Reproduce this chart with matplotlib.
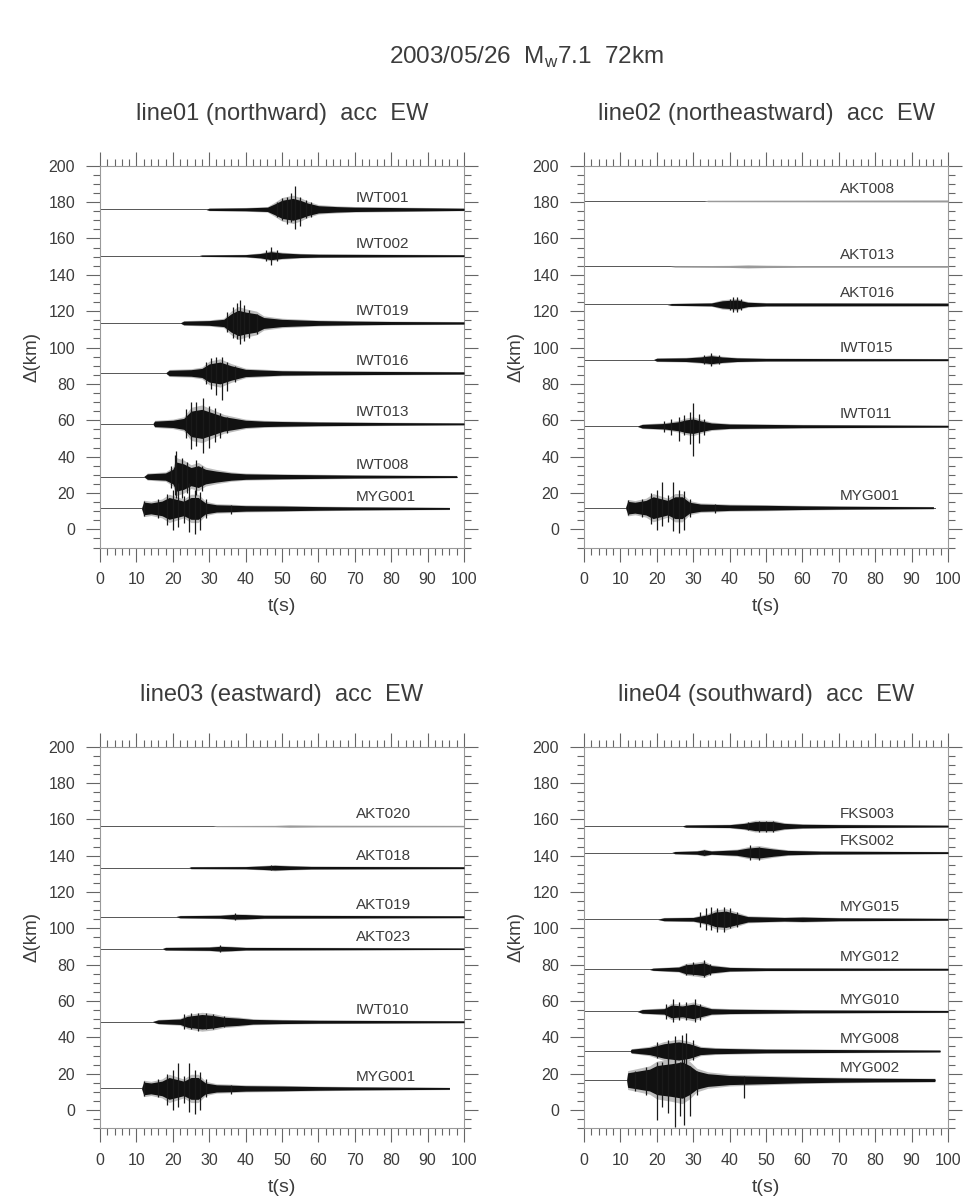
import numpy as np
import matplotlib
matplotlib.use('Agg')
import matplotlib.pyplot as plt
from matplotlib.ticker import MultipleLocator

plt.rcParams['font.family'] = ['Liberation Sans', 'DejaVu Sans']

TXT = '#3c3c3c'
W, H = 965, 1201

# envelope knots (t [s], half amplitude [km]) and spikes (t, up, down)
# MYG001 shows up in three of the lines
myg001_env = [(11.4, 0), (12, 3.5), (14, 3), (17, 4), (19, 6), (21, 5), (23, 4), (25, 6), (27, 6),
              (29, 3), (32, 2), (36, 1.8), (40, 1.5), (50, 1.3), (60, 1), (70, 0.8), (96, 0.5)]
myg001_spk = [(12, 4, 4), (16, 5, 5), (18.5, 8, 9), (20, 10, 12), (21.5, 14, 10), (23, 7, 8),
              (24.5, 14, 13), (26, 10, 14), (27.5, 9, 12), (29, 5, 5), (36, 2, 3)]

p1_title = 'line01 (northward)  acc  EW'
p1_names = ['IWT001', 'IWT002', 'IWT019', 'IWT016', 'IWT013', 'IWT008', 'MYG001']
p1_dist = [176, 150.5, 113.5, 86, 58, 29, 11.5]
p1_tend = [100, 100, 100, 100, 100, 98, 96]
p1_env = [
    [(29, 0), (30, 0.6), (40, 0.8), (46, 1.2), (48, 3), (50, 5), (53, 6), (55, 5), (57, 3.5), (60, 2),
     (65, 1.5), (70, 1.2), (80, 1), (90, 0.8), (100, 0.6)],
    [(27, 0), (28, 0.4), (40, 0.6), (44, 1.2), (47, 2.2), (50, 1.5), (55, 1), (60, 0.8), (100, 0.5)],
    [(22, 0), (23, 1), (30, 1.3), (34, 2), (36, 5), (38, 7), (40, 6), (43, 5), (45, 3), (50, 2),
     (60, 1.3), (70, 1), (80, 0.8), (100, 0.6)],
    [(18, 0), (19, 1.5), (25, 1.8), (28, 2.5), (30, 5), (33, 6), (36, 4), (40, 2), (50, 1.2), (60, 1),
     (100, 0.6)],
    [(14.5, 0), (15, 1.5), (20, 2), (23, 3), (25, 7), (28, 8), (31, 6), (34, 4), (37, 3), (40, 2),
     (45, 1.5), (50, 1.3), (60, 1), (80, 0.7), (100, 0.5)],
    [(12, 0), (13, 1.5), (18, 2), (20, 4), (21, 8), (23, 7), (25, 5), (27, 6), (29, 4), (32, 3), (36, 2),
     (40, 1.5), (50, 1.2), (70, 0.8), (98, 0.5)],
    myg001_env,
]
p1_spk = [
    [(48.5, 4, 4), (50, 6, 6), (51.5, 7, 8), (52.5, 9, 7), (53.5, 13, 11), (55, 7, 9), (56.5, 5, 5),
     (58, 4, 4)],
    [(45.5, 3, 3), (47, 5, 5), (48.5, 3, 3)],
    [(35, 6, 5), (36.5, 9, 8), (37.5, 11, 9), (38.5, 12.5, 11.5), (39.5, 10, 10), (41, 7, 8), (43, 5, 6)],
    [(29, 6, 6), (30.5, 8, 9), (32, 9, 12), (33.4, 9, 15), (35, 6, 10), (37, 4, 5)],
    [(23.5, 8, 8), (25, 12, 14), (26.5, 12, 12), (28.4, 14, 16), (30, 10, 13), (31.5, 9, 10),
     (33, 6, 8), (35, 4, 5)],
    [(19.5, 6, 6), (20.5, 12, 10), (21, 14, 12), (22.5, 10, 12), (24, 8, 9), (26.5, 9, 10), (28, 6, 8)],
    myg001_spk,
]

p2_title = 'line02 (northeastward)  acc  EW'
p2_names = ['AKT008', 'AKT013', 'AKT016', 'IWT015', 'IWT011', 'MYG001']
p2_dist = [180.6, 144.6, 123.7, 93.3, 56.7, 11.9]
p2_tend = [100, 100, 100, 100, 100, 96.4]
p2_env = [
    [(33, 0), (34, 0.5), (100, 0.7)],
    [(23.6, 0), (25, 0.5), (40, 0.7), (45, 1), (50, 0.8), (60, 0.6), (100, 0.6)],
    [(22.7, 0), (24, 0.5), (35, 0.8), (38, 2), (42, 2.5), (45, 1.2), (50, 0.8), (100, 0.7)],
    [(19, 0), (20, 0.8), (28, 1), (32, 1.5), (35, 2.2), (38, 1.5), (42, 1), (50, 0.7), (100, 0.5)],
    [(14.5, 0), (16, 1), (22, 1.5), (26, 2.5), (28, 3.5), (30, 4), (32, 3), (35, 1.8), (40, 1.2),
     (50, 1), (60, 0.8), (100, 0.5)],
    myg001_env,
]
p2_spk = [
    [],
    [],
    [(40, 3, 3), (41, 4, 4), (42, 4, 4), (43, 3, 3)],
    [(33, 2.5, 2.5), (35, 3.5, 3.5), (37, 2.5, 2.5)],
    [(22, 3, 3), (24, 4, 5), (26, 5, 8), (27.5, 6, 5), (29, 8, 10), (30, 13, 16.5), (31.5, 7, 9),
     (33, 4, 5)],
    myg001_spk,
]

p3_title = 'line03 (eastward)  acc  EW'
p3_names = ['AKT020', 'AKT018', 'AKT019', 'AKT023', 'IWT010', 'MYG001']
p3_dist = [156.3, 133.4, 106.4, 88.8, 48.6, 11.9]
p3_tend = [100, 100, 100, 100, 100, 96]
p3_env = [
    [(31, 0), (32, 0.4), (48, 0.5), (52, 0.8), (60, 0.6), (100, 0.5)],
    [(24.3, 0), (25, 0.5), (40, 0.6), (45, 1), (48, 1.3), (52, 1), (58, 0.7), (100, 0.5)],
    [(20.6, 0), (22, 0.6), (33, 0.8), (37, 1.3), (40, 1.2), (45, 0.8), (100, 0.5)],
    [(17, 0), (18, 0.7), (30, 0.9), (33, 1.3), (36, 1.1), (40, 0.7), (100, 0.4)],
    [(14.2, 0), (16, 1), (22, 1.5), (24, 3), (28, 4), (31, 3.5), (34, 2.5), (38, 2), (42, 1.3),
     (50, 1), (60, 0.8), (100, 0.5)],
    myg001_env,
]
p3_spk = [
    [],
    [(47, 1.5, 1.5)],
    [(37, 1.8, 1.8)],
    [(33, 1.8, 1.8)],
    [(23, 4, 4), (25, 5, 4), (27, 5, 5), (29, 5, 4), (31, 4, 4), (34, 3, 3)],
    myg001_spk,
]

p4_title = 'line04 (southward)  acc  EW'
p4_names = ['FKS003', 'FKS002', 'MYG015', 'MYG012', 'MYG010', 'MYG008', 'MYG002']
p4_dist = [156.3, 141.7, 105, 77.5, 54.3, 32.5, 16.5]
p4_tend = [100, 100, 100, 100, 100, 97.8, 96.4]
p4_env = [
    [(26.8, 0), (28, 0.6), (40, 0.8), (44, 1.5), (47, 2.5), (52, 2.5), (55, 1.5), (60, 1), (70, 0.8),
     (100, 0.5)],
    [(24, 0), (25, 0.6), (31, 0.9), (33, 1.5), (35, 0.9), (42, 1.5), (45, 2.5), (48, 3), (52, 2),
     (56, 1.2), (65, 0.8), (100, 0.5)],
    [(20, 0), (22, 0.8), (30, 1), (34, 2.5), (36, 4), (39, 4.5), (42, 3), (45, 1.5), (55, 1), (60, 1.2),
     (70, 0.8), (100, 0.5)],
    [(17.7, 0), (19, 0.6), (26, 1.2), (28, 2.5), (31, 3), (33, 3.5), (35, 2), (40, 1), (50, 0.7),
     (100, 0.5)],
    [(14.5, 0), (16, 1), (22, 1.5), (24, 3.5), (27, 3), (30, 4), (32, 3), (35, 1.5), (40, 1.2), (50, 1),
     (60, 0.8), (100, 0.5)],
    [(12.6, 0), (13, 1), (18, 2), (22, 4), (26, 5), (29, 4), (32, 2), (36, 1.5), (50, 1), (70, 0.8),
     (97.8, 0.5)],
    [(11.7, 0), (12, 4), (15, 5), (18, 6), (20, 8), (24, 9), (27, 10), (29, 8), (31, 5), (34, 3.5),
     (40, 2.5), (50, 2), (60, 1.5), (70, 1.2), (80, 1), (96.4, 0.8)],
]
p4_spk = [
    [(45, 2, 2), (48, 3, 3), (50, 3, 3), (52, 3, 3)],
    [(33, 1.5, 1.5), (45.5, 4, 4), (48, 3, 4)],
    [(32, 4, 4), (33.5, 6, 6), (35, 7, 6), (36.5, 6, 7), (38.5, 7, 7), (40, 6, 5), (42, 4, 4)],
    [(28, 3, 3), (30, 4, 3), (33, 5, 4), (34.5, 3, 3)],
    [(22.5, 4, 4), (24.5, 7, 6), (26, 5, 5), (28, 5, 5), (30.5, 7, 6), (32, 4, 5)],
    [(20, 5, 4), (23, 6, 5), (25, 8, 6), (27, 9, 7), (28, 10, 8), (30, 6, 5)],
    [(14, 5, 6), (17, 7, 8), (20, 10, 22), (21.5, 10, 15), (23, 12, 18), (25, 14, 26), (26.5, 10, 20),
     (27.5, 12, 25), (29, 8, 20), (31, 5, 8), (44, 2, 10)],
]


def draw_panel(ax, names, dist, tend, env, spk):
    for name, d, te, e, s in zip(names, dist, tend, env, spk):
        ax.plot([0, te], [d, d], color='#555555', lw=0.7, zorder=2)
        t = np.array([k[0] for k in e])
        a = np.array([k[1] for k in e])
        if a.max() > 1.2:
            # soft fringe around the dense wiggles, then the body
            ax.fill_between(t, d - 1.3 * a, d + 1.3 * a, color='#bdbdbd', lw=0, zorder=2.5)
            ax.fill_between(t, d - a, d + a, color='#111111', lw=0, zorder=3)
        else:
            ax.fill_between(t, d - 0.8 * a, d + 0.8 * a, color='#9a9a9a', lw=0, zorder=3)
        for ts, up, dn in s:
            ax.vlines(ts, d - dn, d + up, color='#1a1a1a', lw=0.9, zorder=3)
        ax.text(70.3, d + 6.5, name, fontsize=11, color=TXT, va='center', ha='left', zorder=4)

    ax.set_xlim(0, 100)
    ax.set_ylim(-10, 200)
    ax.xaxis.set_major_locator(MultipleLocator(10))
    ax.xaxis.set_minor_locator(MultipleLocator(2))
    ax.yaxis.set_major_locator(MultipleLocator(20))
    ax.yaxis.set_minor_locator(MultipleLocator(5))
    ax.tick_params(which='both', direction='out', top=True, right=True, colors='#666666',
                   labelcolor=TXT, labelsize=11.5, width=0.8)
    ax.tick_params(which='major', length=10, pad=8)
    ax.tick_params(which='minor', length=5)
    for sp in ax.spines.values():
        sp.set_color('#999999')
        sp.set_linewidth(0.8)


fig = plt.figure(figsize=(W / 100, H / 100), dpi=100)

# axes frames in pixels: left, top(200 km), right, bottom(-10 km)
frames = [(100, 165.7, 464, 547.5), (584, 165.7, 948, 547.5),
          (100, 746.7, 464, 1128.2), (584, 746.7, 948, 1128.2)]
titles = [p1_title, p2_title, p3_title, p4_title]
panels = [(p1_names, p1_dist, p1_tend, p1_env, p1_spk),
          (p2_names, p2_dist, p2_tend, p2_env, p2_spk),
          (p3_names, p3_dist, p3_tend, p3_env, p3_spk),
          (p4_names, p4_dist, p4_tend, p4_env, p4_spk)]

for (x0, y0, x1, y1), ttl, pdata in zip(frames, titles, panels):
    ax = fig.add_axes([x0 / W, 1 - y1 / H, (x1 - x0) / W, (y1 - y0) / H])
    draw_panel(ax, *pdata)
    xc = (x0 + x1) / 2
    fig.text(xc / W, 1 - (y0 - 52) / H, ttl, fontsize=17, color=TXT, ha='center', va='center')
    fig.text(xc / W, 1 - (y1 + 59) / H, 't(s)', fontsize=14, color=TXT, ha='center', va='center')
    fig.text((x0 - 68) / W, 1 - ((y0 + y1) / 2) / H, '\u0394(km)', fontsize=13.5, color=TXT,
             rotation=90, ha='center', va='center')

fig.text(526 / W, 1 - 57 / H, '2003/05/26  M$_\\mathregular{w}$7.1  72km', fontsize=17.5, color=TXT,
         ha='center', va='center')

fig.savefig('out.png', dpi=100, facecolor='white')
